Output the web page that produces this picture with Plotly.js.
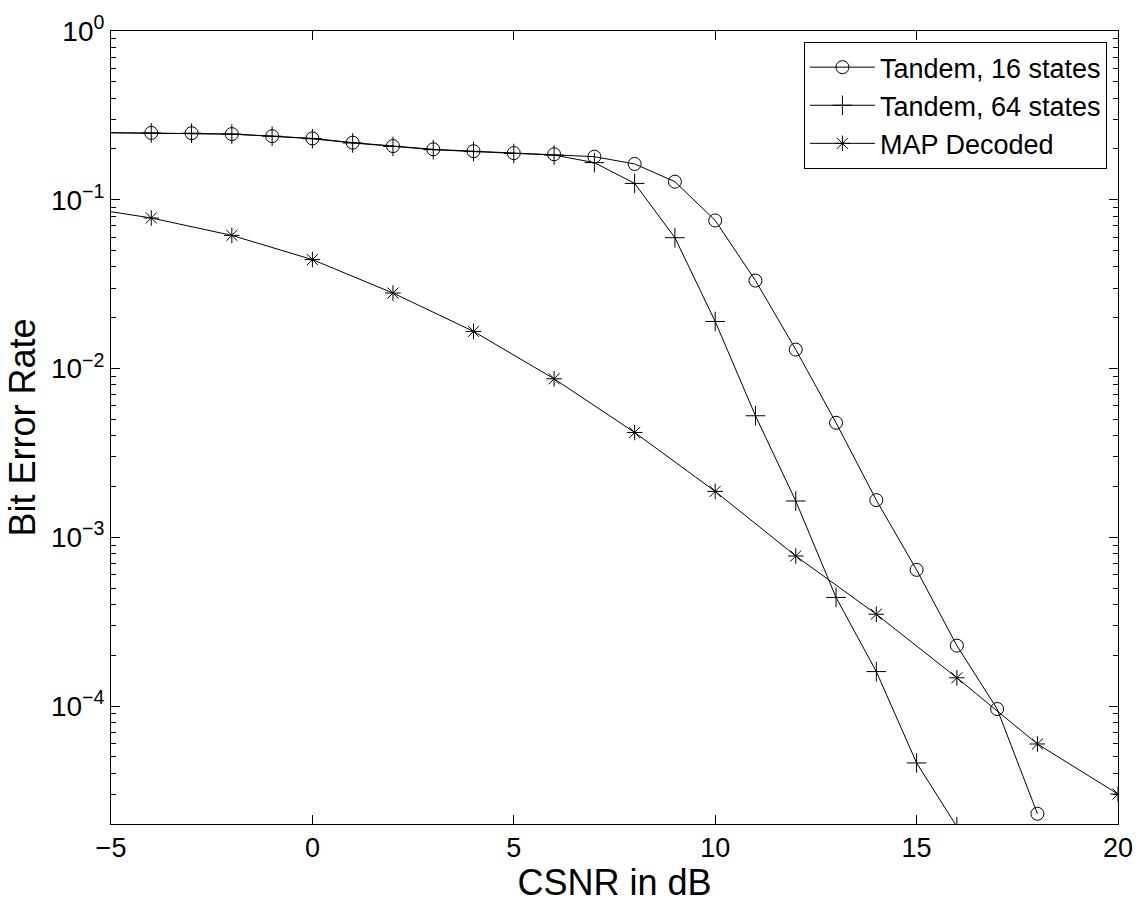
<!DOCTYPE html>
<html>
<head>
<meta charset="utf-8">
<script src="https://cdn.plot.ly/plotly-3.0.1.min.js"></script>
<style>html,body{margin:0;padding:0;background:#fff;}#chart{width:1144px;height:903px;}</style>
</head>
<body>
<div id="chart"></div>
<script>
// Data
const tandem16X = [-6,-4,-3,-2,-1,0,1,2,3,4,5,6,7,8,9,10,11,12,13,14,15,16,17,18];
const tandem16Y = [0.251,0.249,0.248,0.245,0.238,0.231,0.218,0.208,0.199,0.194,0.189,0.186,0.180,0.163,0.128,0.0754,0.0332,0.01295,0.00477,0.00166,0.000641,0.000228,0.000096,0.000023];

const tandem64X = [-6,-4,-3,-2,-1,0,1,2,3,4,5,6,7,8,9,10,11,12,13,14,15,16];
const tandem64Y = [0.251,0.249,0.248,0.245,0.238,0.230,0.217,0.207,0.198,0.193,0.188,0.184,0.166,0.125,0.0596,0.0190,0.00525,0.00164,0.000440,0.000160,0.000046,0.0000193];

const mapX = [-6,-4,-2,0,2,4,6,8,10,12,14,16,18,20];
const mapY = [0.0925,0.078,0.0615,0.0442,0.0280,0.0166,0.00869,0.00418,0.00187,0.000775,0.000350,0.000147,0.0000596,0.0000301];

const seriesNames = ['Tandem, 16 states','Tandem, 64 states','MAP Decoded'];

const xTickVals = [-5,0,5,10,15,20];
const xTickText = ['\u22125','0','5','10','15','20'];
const yTickVals = [1e-4,1e-3,1e-2,1e-1,1];
const yTickText = ['10<sup>\u22124</sup>','10<sup>\u22123</sup>','10<sup>\u22122</sup>','10<sup>\u22121</sup>','10<sup>0</sup>'];

// minor tick positions (2..9 times each decade)
const yMinor = [];
[1e-5,1e-4,1e-3,1e-2,1e-1].forEach(d => { for (let k = 2; k <= 9; k++) yMinor.push(k*d); });

const font = 'Liberation Sans, Arial, Helvetica, sans-serif';
const lineStyle = {color:'#000', width:1};

const traces = [
  {x: tandem16X, y: tandem16Y, name: seriesNames[0], mode:'lines+markers', line: lineStyle,
   marker:{symbol:'circle-open', size:13, color:'#000', line:{color:'#000', width:1}}},
  {x: tandem64X, y: tandem64Y, name: seriesNames[1], mode:'lines+markers', line: lineStyle,
   marker:{symbol:'cross-thin-open', size:14, color:'#000', line:{color:'#000', width:1}}},
  {x: mapX, y: mapY, name: seriesNames[2], mode:'lines+markers', line: lineStyle,
   marker:{symbol:'asterisk-open', size:13, color:'#000', line:{color:'#000', width:1}}}
];

const layout = {
  width:1144, height:903,
  margin:{l:111, r:26, t:31, b:79},
  paper_bgcolor:'#fff', plot_bgcolor:'#fff',
  font:{family:font, color:'#000', size:27},
  showlegend:true,
  legend:{x:0.989, y:0.986, xanchor:'right', yanchor:'top', bgcolor:'#fff',
          bordercolor:'#000', borderwidth:1, font:{family:font, size:27, color:'#000'},
          itemwidth:65, tracegroupgap:0},
  xaxis:{range:[-5,20], tickmode:'array', tickvals:xTickVals, ticktext:xTickText,
         ticks:'inside', ticklen:9, tickwidth:1, tickcolor:'#000',
         showline:true, linecolor:'#000', linewidth:1, mirror:'allticks',
         showgrid:false, zeroline:false, tickfont:{size:27},
         title:{text:'CSNR in dB', font:{size:36}, standoff:6}},
  yaxis:{type:'log', range:[Math.log10(2e-5), 0], tickmode:'array', tickvals:yTickVals, ticktext:yTickText,
         ticks:'inside', ticklen:9, tickwidth:1, tickcolor:'#000',
         showline:true, linecolor:'#000', linewidth:1, mirror:'allticks',
         showgrid:false, zeroline:false, tickfont:{size:28},
         minor:{tickmode:'array', tickvals:yMinor, ticks:'inside', ticklen:5, tickwidth:1, tickcolor:'#000', showgrid:false},
         title:{text:'Bit Error Rate', font:{size:36}, standoff:4}}
};

Plotly.newPlot('chart', traces, layout, {displayModeBar:false, staticPlot:true});
</script>
</body>
</html>
